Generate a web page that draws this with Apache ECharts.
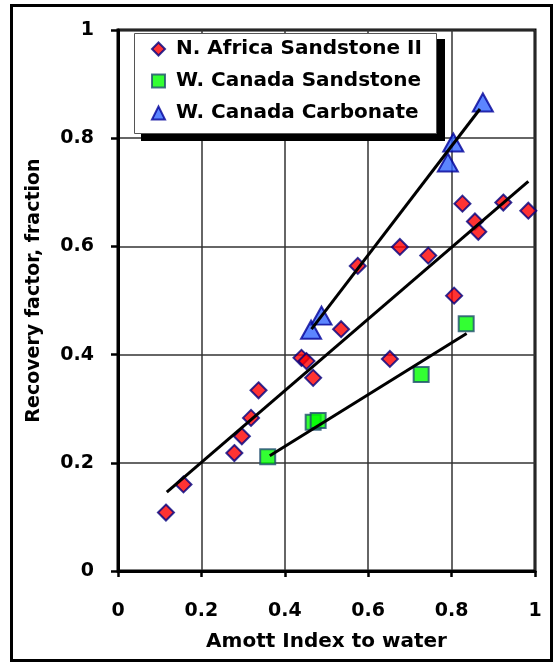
<!DOCTYPE html>
<html>
<head>
<meta charset="utf-8">
<script src="https://cdn.jsdelivr.net/npm/echarts@6/dist/echarts.min.js"></script>
<style>
html,body{margin:0;padding:0;background:#fff;}
#chart{width:554px;height:666px;}
</style>
</head>
<body>
<div id="chart"></div>
<script>
// Tick labels
var xTicks = ['0', '0.2', '0.4', '0.6', '0.8', '1'];
var yTicks = ['0', '0.2', '0.4', '0.6', '0.8', '1'];

// Series names
var seriesNames = ['N. Africa Sandstone II', 'W. Canada Sandstone', 'W. Canada Carbonate'];

// N. Africa Sandstone II
var naX = [0.115, 0.157, 0.279, 0.297, 0.319, 0.337, 0.440, 0.452, 0.468, 0.535, 0.575, 0.652, 0.676, 0.744, 0.806, 0.826, 0.856, 0.864, 0.924, 0.984];
var naY = [0.108, 0.160, 0.218, 0.249, 0.283, 0.334, 0.394, 0.388, 0.357, 0.447, 0.564, 0.392, 0.599, 0.583, 0.509, 0.679, 0.646, 0.627, 0.681, 0.666];

// W. Canada Sandstone
var wcsX = [0.359, 0.468, 0.480, 0.727, 0.835];
var wcsY = [0.211, 0.275, 0.278, 0.363, 0.457];

// W. Canada Carbonate
var wccX = [0.463, 0.488, 0.791, 0.804, 0.875];
var wccY = [0.446, 0.472, 0.755, 0.792, 0.866];

// Trend lines (endpoints)
var naTrendX = [0.117, 0.984];
var naTrendY = [0.146, 0.720];
var wcsTrendX = [0.364, 0.836];
var wcsTrendY = [0.213, 0.439];
var wccTrendX = [0.464, 0.868];
var wccTrendY = [0.447, 0.854];

function pairs(xs, ys) {
  return xs.map(function (x, i) { return [x, ys[i]]; });
}

var FONT = 'DejaVu Sans';
var chart = echarts.init(document.getElementById('chart'), null, {renderer: 'canvas'});

var option = {
  animation: false,
  backgroundColor: '#ffffff',
  grid: {
    left: 118, top: 30, right: 19, bottom: 95,
    show: true, borderColor: '#000', borderWidth: 3, backgroundColor: 'transparent'
  },
  xAxis: {
    type: 'value', min: 0, max: 1, interval: 0.2,
    name: 'Amott Index to water', nameLocation: 'middle', nameGap: 61,
    nameTextStyle: {fontFamily: FONT, fontWeight: 'bold', fontSize: 20, color: '#000'},
    axisLine: {show: true, onZero: false, lineStyle: {color: '#000', width: 3}},
    axisTick: {show: true, inside: false, length: 6, lineStyle: {color: '#000', width: 2.5}},
    axisLabel: {
      margin: 31, fontFamily: FONT, fontWeight: 'bold', fontSize: 19, color: '#000',
      formatter: function (v) { return xTicks[Math.round(v / 0.2)]; }
    },
    splitLine: {show: true, lineStyle: {color: '#333', width: 1.5}}
  },
  yAxis: {
    type: 'value', min: 0, max: 1, interval: 0.2,
    name: 'Recovery factor, fraction', nameLocation: 'middle', nameGap: 74, nameRotate: 90,
    nameTextStyle: {fontFamily: FONT, fontWeight: 'bold', fontSize: 19, color: '#000', padding: [0, 0, 0, 20]},
    axisLine: {show: true, onZero: false, lineStyle: {color: '#000', width: 3}},
    axisTick: {show: true, inside: false, length: 7, lineStyle: {color: '#000', width: 2.5}},
    axisLabel: {
      margin: 24, fontFamily: FONT, fontWeight: 'bold', fontSize: 19, color: '#000',
      formatter: function (v) { return yTicks[Math.round(v / 0.2)]; }
    },
    splitLine: {show: true, lineStyle: {color: '#333', width: 1.5}}
  },
  legend: {
    data: seriesNames,
    orient: 'vertical',
    left: 151, top: 39,
    padding: 0,
    itemWidth: 13, itemHeight: 13, itemGap: 12,
    z: 10,
    textStyle: {fontFamily: FONT, fontWeight: 'bold', fontSize: 20, color: '#000', lineHeight: 20, padding: [0, 0, 0, 6]}
  },
  graphic: [
    {type: 'rect', z: 8, shape: {x: 141, y: 39, width: 304, height: 102}, style: {fill: '#000'}},
    {type: 'rect', z: 9, shape: {x: 134.5, y: 33.5, width: 302, height: 100}, style: {fill: '#fff', stroke: '#555', lineWidth: 1}},
    {type: 'rect', z: 9, shape: {x: 11.5, y: 5.5, width: 540, height: 655}, style: {fill: 'none', stroke: '#000', lineWidth: 3}}
  ],
  series: [
    {
      name: seriesNames[0], type: 'scatter', z: 3,
      symbol: 'diamond', symbolSize: 16,
      itemStyle: {color: '#ff0000', borderColor: '#000080', borderWidth: 2},
      data: pairs(naX, naY)
    },
    {
      name: seriesNames[1], type: 'scatter', z: 3,
      symbol: 'rect', symbolSize: 15,
      itemStyle: {color: '#00ff00', borderColor: '#1f4e6e', borderWidth: 2},
      data: pairs(wcsX, wcsY)
    },
    {
      name: seriesNames[2], type: 'scatter', z: 3,
      symbol: 'triangle', symbolSize: [20, 18],
      itemStyle: {color: '#3366ff', borderColor: '#000099', borderWidth: 2},
      data: pairs(wccX, wccY)
    },
    {
      name: 'naTrend', type: 'line', z: 4, symbol: 'none', silent: true,
      lineStyle: {color: '#000', width: 3},
      data: pairs(naTrendX, naTrendY)
    },
    {
      name: 'wcsTrend', type: 'line', z: 4, symbol: 'none', silent: true,
      lineStyle: {color: '#000', width: 3},
      data: pairs(wcsTrendX, wcsTrendY)
    },
    {
      name: 'wccTrend', type: 'line', z: 4, symbol: 'none', silent: true,
      lineStyle: {color: '#000', width: 3},
      data: pairs(wccTrendX, wccTrendY)
    }
  ]
};
chart.setOption(option);
</script>
</body>
</html>
